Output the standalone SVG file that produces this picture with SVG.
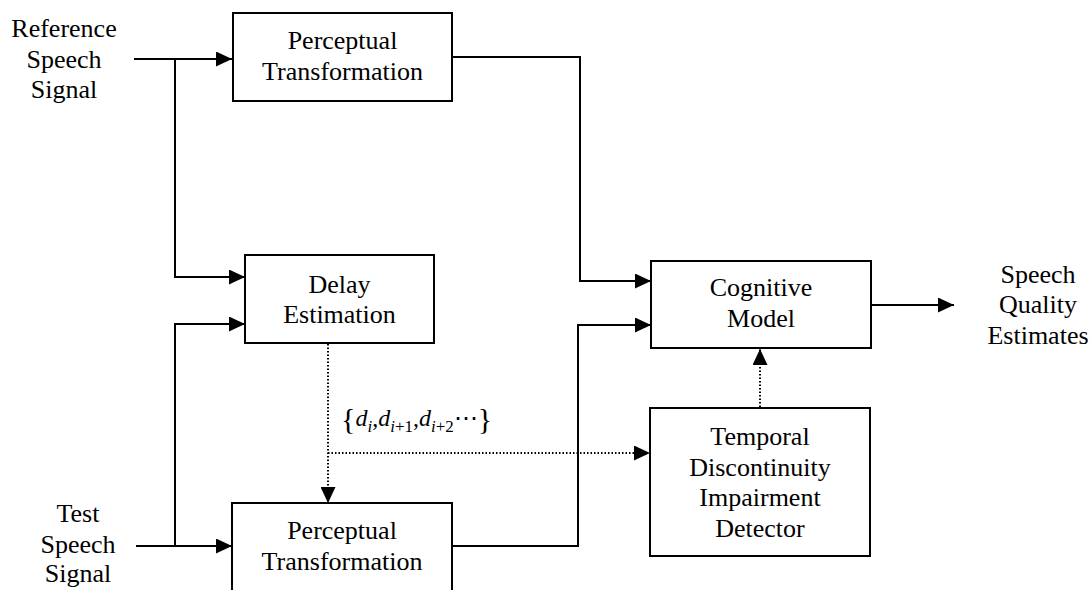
<svg xmlns="http://www.w3.org/2000/svg" width="1092" height="590" viewBox="0 0 1092 590">
  <style>
    .box { fill: #fff; stroke: #000; stroke-width: 2; }
    .lbl { font-family: "Liberation Serif", "Times New Roman", serif; font-size: 26px; fill: #000; text-anchor: middle; }
    .wire { fill: none; stroke: #000; stroke-width: 2; }
    .dot { fill: none; stroke: #000; stroke-width: 2; stroke-dasharray: 1.5 2; }
    .math { font-family: "Liberation Serif", "Times New Roman", serif; fill: #000; }
  </style>
  <defs>
    <marker id="head" markerUnits="userSpaceOnUse" markerWidth="16" markerHeight="15" refX="16" refY="7.5" orient="auto">
      <path d="M0,0 L16,7.5 L0,15 Z" fill="#000"/>
    </marker>
  </defs>
  <rect width="1092" height="590" fill="#fff"/>

  <!-- signal labels -->
  <g id="ref-signal">
    <text class="lbl" x="64" y="37">Reference</text>
    <text class="lbl" x="64" y="68">Speech</text>
    <text class="lbl" x="64" y="98">Signal</text>
  </g>
  <g id="test-signal">
    <text class="lbl" x="78" y="522">Test</text>
    <text class="lbl" x="78" y="553">Speech</text>
    <text class="lbl" x="78" y="582">Signal</text>
  </g>
  <g id="quality-out">
    <text class="lbl" x="1038" y="283">Speech</text>
    <text class="lbl" x="1038" y="313">Quality</text>
    <text class="lbl" x="1038" y="344">Estimates</text>
  </g>

  <!-- connectors -->
  <g id="connectors">
    <path class="wire" d="M134,59 H232" marker-end="url(#head)"/>
    <path class="wire" d="M175,59 V277 H245" marker-end="url(#head)"/>
    <path class="wire" d="M136,546 H232" marker-end="url(#head)"/>
    <path class="wire" d="M175,546 V324 H245" marker-end="url(#head)"/>
    <path class="wire" d="M452,57 H580 V281 H651" marker-end="url(#head)"/>
    <path class="wire" d="M452,546 H578 V325 H651" marker-end="url(#head)"/>
    <path class="wire" d="M871,305 H954" marker-end="url(#head)"/>
    <path class="dot" d="M328,344 V503" marker-end="url(#head)"/>
    <path class="dot" d="M328,453 H650" marker-end="url(#head)"/>
    <path class="dot" d="M760,407 V349" marker-end="url(#head)"/>
  </g>

  <!-- delay sequence label -->
  <text class="math" x="341" y="426" font-size="24"><tspan font-size="30" dy="3">{</tspan><tspan font-style="italic" dy="-3">d</tspan><tspan font-style="italic" font-size="17" dy="6">i</tspan><tspan dy="-6">,</tspan><tspan font-style="italic">d</tspan><tspan font-size="17" dy="6"><tspan font-style="italic">i</tspan>+1</tspan><tspan dy="-6">,</tspan><tspan font-style="italic">d</tspan><tspan font-size="17" dy="6"><tspan font-style="italic">i</tspan>+2</tspan><tspan dy="-6">⋯</tspan><tspan font-size="30" dy="3">}</tspan></text>

  <!-- blocks -->
  <g id="perceptual-ref">
    <rect class="box" x="233" y="13" width="219" height="88"/>
    <text class="lbl" x="342.5" y="49">Perceptual</text>
    <text class="lbl" x="342.5" y="80">Transformation</text>
  </g>
  <g id="delay-estimation">
    <rect class="box" x="245" y="255" width="189" height="88"/>
    <text class="lbl" x="339.5" y="293">Delay</text>
    <text class="lbl" x="339.5" y="323">Estimation</text>
  </g>
  <g id="perceptual-test">
    <rect class="box" x="232" y="503" width="220" height="92"/>
    <text class="lbl" x="342" y="539">Perceptual</text>
    <text class="lbl" x="342" y="570">Transformation</text>
  </g>
  <g id="cognitive-model">
    <rect class="box" x="651" y="261" width="220" height="87"/>
    <text class="lbl" x="761" y="296">Cognitive</text>
    <text class="lbl" x="761" y="327">Model</text>
  </g>
  <g id="td-detector">
    <rect class="box" x="650" y="408" width="220" height="148"/>
    <text class="lbl" x="760" y="445">Temporal</text>
    <text class="lbl" x="760" y="476">Discontinuity</text>
    <text class="lbl" x="760" y="506">Impairment</text>
    <text class="lbl" x="760" y="537">Detector</text>
  </g>
</svg>
